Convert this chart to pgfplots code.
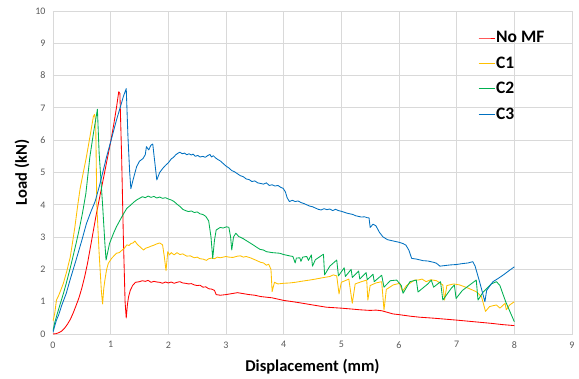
\documentclass[border=0pt]{standalone}
\usepackage{pgfplots}
\pgfplotsset{compat=1.18}
\usepackage{fontspec}
\setmainfont{Carlito}
\definecolor{cRed}{HTML}{FF0000}
\definecolor{cYel}{HTML}{FFC000}
\definecolor{cGrn}{HTML}{00B050}
\definecolor{cBlu}{HTML}{0070C0}
\definecolor{gridc}{HTML}{D9D9D9}
\definecolor{tickc}{HTML}{595959}
\begin{document}
\begin{tikzpicture}
\path[use as bounding box] (-53pt,-44pt) rectangle (526pt,334pt);
\begin{axis}[
  at={(0,0)}, anchor=south west,
  scale only axis, width=519pt, height=323pt,
  xmin=0, xmax=9, ymin=0, ymax=10,
  xtick={0,1,...,9}, ytick={0,1,...,10},
  grid=major, major grid style={gridc, line width=0.8pt},
  axis line style={gridc, line width=0.8pt},
  tick style={draw=none},
  /pgf/number format/assume math mode=true,
  ticklabel style={font=\fontsize{10}{12}\selectfont, text=tickc},
  yticklabel style={xshift=-4pt},
  xticklabel style={yshift=-4pt},
  xlabel={\textbf{Displacement (mm)}},
  ylabel={\textbf{Load (kN)}},
  label style={font=\fontsize{16.5}{18}\selectfont},
  xlabel style={at={(axis description cs:0.5,0)}, anchor=center, yshift=-33pt},
  ylabel style={at={(axis description cs:0,0.5)}, anchor=center, yshift=31pt},
  legend style={at={(rel axis cs:0.819,0.94)}, anchor=north west, draw=none, fill=none,
    font=\fontsize{17.5}{19}\selectfont\bfseries, row sep=10.5pt, inner sep=0pt,
    /tikz/every even column/.append style={column sep=0pt},
    nodes={inner sep=1pt}},
  legend cell align=left,
  legend image code/.code={\draw[#1, line width=0.9pt] plot coordinates {(0pt,0pt) (8pt,0pt) (16pt,0pt)};},
  every axis plot/.append style={line width=0.85pt, line join=round},
]
\addplot[cRed] coordinates {
(0,0) (0.05,0.01) (0.1,0.04) (0.15,0.09) (0.2,0.18) (0.25,0.3) (0.3,0.45) (0.35,0.65)
(0.4,0.88) (0.45,1.12) (0.5,1.42) (0.55,1.78) (0.6,2.2) (0.65,2.7) (0.7,3.2) (0.75,3.7)
(0.8,4.15) (0.85,4.6) (0.9,5.05) (0.95,5.5) (1.0,5.95) (1.05,6.45) (1.1,7.0) (1.14,7.5)
(1.16,7.45) (1.19,5.5) (1.22,3.0) (1.25,1.0) (1.27,0.5) (1.29,0.9) (1.31,1.15) (1.34,1.35)
(1.38,1.5) (1.43,1.6) (1.5,1.62) (1.55,1.65) (1.6,1.63) (1.65,1.66) (1.7,1.6) (1.75,1.63) (1.8,1.61) (1.85,1.6) (1.9,1.57) (1.95,1.61) (2.0,1.58)
(2.05,1.61) (2.1,1.57) (2.15,1.6) (2.2,1.62) (2.25,1.58) (2.3,1.57) (2.35,1.55) (2.4,1.56) (2.45,1.52) (2.5,1.5) (2.55,1.51) (2.6,1.45) (2.65,1.46) (2.7,1.4) (2.75,1.39) (2.8,1.35)
(2.83,1.22) (2.9,1.2) (3.0,1.22) (3.1,1.25) (3.2,1.28) (3.3,1.25) (3.4,1.22) (3.5,1.2)
(3.6,1.16) (3.7,1.14) (3.8,1.12) (3.9,1.08) (4.0,1.04) (4.16,1.0) (4.3,0.96) (4.5,0.9)
(4.74,0.83) (5.0,0.8) (5.2,0.77) (5.32,0.75) (5.5,0.73) (5.6,0.74) (5.7,0.72) (5.78,0.68)
(5.9,0.62) (6.0,0.6) (6.2,0.55) (6.36,0.52) (6.6,0.49) (7.0,0.43) (7.3,0.38) (7.6,0.33)
(7.8,0.29) (8.0,0.26)
};
\addlegendentry{No MF}
\addplot[cYel] coordinates {
(0,0.4) (0.03,0.64) (0.06,1.05) (0.1,1.2) (0.14,1.38) (0.18,1.57) (0.24,1.95) (0.3,2.39)
(0.34,2.85) (0.38,3.32) (0.43,4.0) (0.47,4.5) (0.52,4.95) (0.58,5.49) (0.64,6.1) (0.7,6.73)
(0.72,6.8) (0.74,6.6) (0.76,4.0) (0.8,2.5) (0.84,1.3) (0.86,0.93) (0.88,1.4) (0.9,1.67)
(0.93,2.0) (0.96,2.19) (1.02,2.35) (1.1,2.5) (1.15,2.52) (1.2,2.6) (1.24,2.66) (1.28,2.76) (1.32,2.74) (1.35,2.8) (1.39,2.82) (1.42,2.88)
(1.46,2.78) (1.52,2.68) (1.57,2.6) (1.61,2.66) (1.65,2.68) (1.7,2.72) (1.75,2.75) (1.8,2.79) (1.85,2.82) (1.9,2.76) (1.93,2.4)
(1.96,1.96) (1.99,2.55) (2.02,2.45) (2.05,2.52) (2.1,2.45) (2.15,2.52) (2.2,2.46) (2.25,2.48) (2.32,2.41) (2.38,2.42) (2.45,2.36) (2.5,2.38) (2.55,2.33) (2.6,2.32)
(2.66,2.28) (2.7,2.33) (2.75,2.35) (2.8,2.33) (2.85,2.38) (2.9,2.36) (3.0,2.4) (3.05,2.38) (3.12,2.37) (3.2,2.41) (3.25,2.42) (3.3,2.38) (3.35,2.4) (3.42,2.36) (3.5,2.3)
(3.6,2.22) (3.65,2.2) (3.7,2.13) (3.74,2.16) (3.78,2.0) (3.8,1.31) (3.84,1.6) (3.9,1.55) (4.0,1.57) (4.1,1.58) (4.2,1.6)
(4.3,1.63) (4.45,1.67) (4.55,1.7) (4.7,1.75) (4.8,1.78) (4.86,1.83) (4.92,1.8) (4.96,1.24) (5.0,1.6) (5.13,1.7) (5.19,0.95)
(5.24,1.55) (5.35,1.62) (5.44,1.67) (5.46,1.05) (5.5,1.5) (5.6,1.58) (5.7,1.62) (5.74,0.74)
(5.78,1.38) (5.9,1.52) (6.01,1.57) (6.06,1.32) (6.13,1.5) (6.27,1.67) (6.33,1.67) (6.4,1.7) (6.47,1.62)
(6.55,1.68) (6.65,1.65) (6.76,1.52) (6.79,1.05) (6.83,1.5) (6.95,1.55) (7.05,1.52) (7.2,1.42) (7.34,1.31) (7.43,1.16)
(7.47,0.9) (7.5,0.7) (7.57,0.85) (7.69,0.9) (7.75,0.8) (7.84,0.95) (7.86,0.75) (7.92,0.9)
(8.0,1.0)
};
\addlegendentry{C1}
\addplot[cGrn] coordinates {
(0,0.1) (0.03,0.35) (0.06,0.54) (0.12,0.9) (0.18,1.25) (0.23,1.57) (0.3,2.05) (0.4,2.8)
(0.45,3.2) (0.51,3.73) (0.57,4.35) (0.64,5.49) (0.7,6.2) (0.77,6.96) (0.8,5.6) (0.86,4.0)
(0.9,2.8) (0.92,2.29) (0.98,2.8) (1.05,3.12) (1.1,3.32) (1.2,3.65) (1.28,3.89) (1.34,3.98) (1.4,4.08)
(1.45,4.15) (1.5,4.2) (1.55,4.25) (1.6,4.22) (1.65,4.27) (1.7,4.23) (1.75,4.26) (1.8,4.21) (1.85,4.24)
(1.9,4.2) (1.95,4.22) (2.0,4.18) (2.05,4.15) (2.1,4.1) (2.15,4.02) (2.2,3.95) (2.25,3.86) (2.3,3.82)
(2.35,3.79) (2.4,3.81) (2.45,3.76) (2.5,3.78) (2.55,3.72) (2.6,3.7) (2.65,3.64) (2.7,3.5) (2.74,3.0) (2.77,2.34) (2.8,2.9)
(2.83,3.22) (2.9,3.3) (2.95,3.28) (3.01,3.32) (3.05,3.3) (3.08,3.0) (3.1,2.6) (3.13,3.0) (3.17,3.12)
(3.22,3.02) (3.3,2.95) (3.38,2.86) (3.47,2.76) (3.52,2.7) (3.59,2.62) (3.65,2.6) (3.7,2.55) (3.8,2.52) (3.93,2.5) (4.0,2.46) (4.1,2.42) (4.16,2.4) (4.2,2.2)
(4.22,2.35) (4.28,2.36) (4.3,2.25) (4.33,2.38) (4.4,2.4) (4.43,2.28) (4.48,2.45) (4.5,2.1)
(4.55,2.3) (4.69,2.47) (4.71,1.83) (4.8,2.1) (4.92,2.29) (4.95,1.8) (5.05,2.05) (5.07,1.78)
(5.17,2.0) (5.19,1.75) (5.3,1.95) (5.32,1.7) (5.43,1.9) (5.45,1.68) (5.55,1.85) (5.57,1.62)
(5.7,1.82) (5.74,1.45) (5.85,1.65) (5.96,1.67) (6.04,1.5) (6.07,1.26) (6.19,1.62) (6.3,1.67)
(6.33,1.3) (6.5,1.55) (6.56,1.67) (6.6,1.45) (6.72,1.62) (6.76,1.05) (6.9,1.4) (6.96,1.52)
(6.99,1.1) (7.1,1.35) (7.34,1.67) (7.37,1.05) (7.46,1.3) (7.6,1.55) (7.69,1.62) (7.75,1.5)
(7.85,1.0) (8.0,0.38)
};
\addlegendentry{C2}
\addplot[cBlu] coordinates {
(0,0.05) (0.03,0.25) (0.06,0.43) (0.1,0.6) (0.15,0.88) (0.23,1.26) (0.3,1.7) (0.4,2.29)
(0.5,2.9) (0.58,3.42) (0.66,3.8) (0.73,4.1) (0.8,4.55) (0.93,5.49) (1.0,5.95) (1.1,6.62)
(1.18,7.1) (1.22,7.35) (1.27,7.6) (1.3,6.1) (1.33,5.0) (1.35,4.5) (1.4,4.85) (1.45,5.18)
(1.5,5.35) (1.56,5.43) (1.6,5.55) (1.62,5.8) (1.66,5.7) (1.7,5.85) (1.73,5.88) (1.76,5.4)
(1.8,4.77) (1.85,5.0) (1.9,5.12) (1.95,5.22) (2.0,5.3) (2.05,5.42) (2.09,5.47) (2.13,5.55) (2.17,5.6)
(2.2,5.63) (2.24,5.58) (2.28,5.6) (2.32,5.55) (2.36,5.58) (2.4,5.54) (2.43,5.57) (2.47,5.5) (2.51,5.53)
(2.55,5.48) (2.6,5.5) (2.64,5.47) (2.68,5.52) (2.72,5.56) (2.75,5.48) (2.78,5.52) (2.82,5.45) (2.86,5.4)
(2.9,5.36) (2.95,5.28) (3.0,5.2) (3.05,5.14) (3.1,5.06) (3.15,5.02) (3.2,4.96) (3.25,4.9) (3.3,4.87)
(3.35,4.8) (3.4,4.78) (3.45,4.72) (3.5,4.74) (3.55,4.68) (3.6,4.66) (3.65,4.64) (3.7,4.68) (3.75,4.6)
(3.8,4.62) (3.85,4.58) (3.9,4.6) (3.95,4.54) (3.99,4.51) (4.03,4.4) (4.06,4.22) (4.1,4.1) (4.15,4.14)
(4.2,4.1) (4.25,4.12) (4.3,4.07) (4.35,4.04) (4.4,4.0) (4.45,3.96) (4.5,3.94) (4.55,3.9) (4.6,3.86)
(4.65,3.84) (4.7,3.88) (4.75,3.85) (4.8,3.87) (4.85,3.82) (4.9,3.86) (4.95,3.82) (5.0,3.8) (5.05,3.77)
(5.1,3.74) (5.15,3.72) (5.2,3.7) (5.25,3.66) (5.3,3.64) (5.35,3.62) (5.4,3.63) (5.45,3.6) (5.48,3.6)
(5.5,3.3) (5.55,3.4) (5.6,3.35) (5.66,3.15) (5.72,3.01) (5.8,2.92) (5.9,2.88) (6.0,2.84) (6.07,2.8) (6.12,2.75) (6.17,2.6) (6.22,2.34)
(6.3,2.32) (6.42,2.27) (6.5,2.26) (6.6,2.22) (6.65,2.19) (6.71,2.1) (6.8,2.12) (6.9,2.14) (6.99,2.15) (7.1,2.18) (7.2,2.2) (7.28,2.24) (7.32,2.1)
(7.4,1.6) (7.49,1.0) (7.52,1.35) (7.58,1.5) (7.63,1.62) (7.72,1.72) (7.81,1.83) (7.9,1.95)
(8.0,2.08)
};
\addlegendentry{C3}
\end{axis}
\end{tikzpicture}
\end{document}
